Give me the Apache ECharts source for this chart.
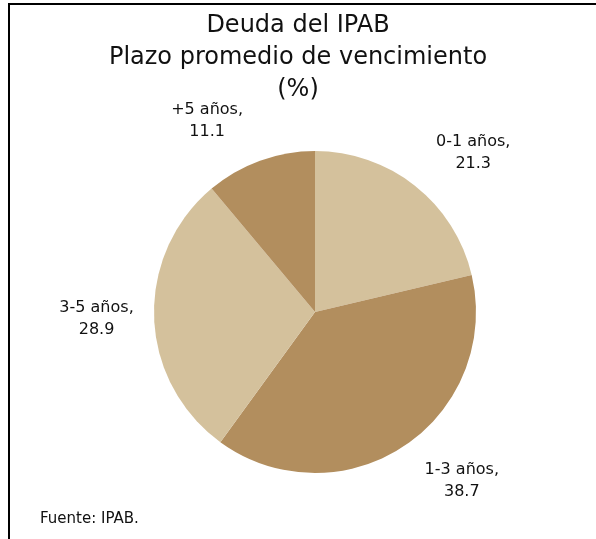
<!DOCTYPE html>
<html>
<head>
<meta charset="utf-8">
<script src="https://cdn.jsdelivr.net/npm/echarts@6/dist/echarts.min.js"></script>
<style>
html, body { margin: 0; padding: 0; background: #fff; }
#main { width: 596px; height: 539px; }
</style>
</head>
<body>
<div id="main"></div>
<script>
// datos
var categorias = ['0-1 años', '1-3 años', '3-5 años', '+5 años'];
var valores = [21.3, 38.7, 28.9, 11.1];
var colores = ['#d4c19c', '#b28e5e', '#d4c19c', '#b28e5e'];

var cx = 315, cy = 312, radio = 161;
var total = valores.reduce(function (a, b) { return a + b; }, 0);

// angulo medio de cada rebanada (desde arriba, sentido horario)
var angMedio = [];
var acum = 0;
for (var i = 0; i < valores.length; i++) {
    angMedio.push((acum + valores[i] / 2) / total * 2 * Math.PI);
    acum += valores[i];
}

var dom = document.getElementById('main');
var myChart = echarts.init(dom);
var option = {
    animation: false,
    title: {
        text: 'Deuda del IPAB\nPlazo promedio de vencimiento\n(%)',
        left: 'center',
        top: 5,
        textStyle: {
            fontFamily: 'DejaVu Sans',
            fontSize: 24,
            fontWeight: 'normal',
            color: '#111',
            lineHeight: 32
        }
    },
    graphic: [
        {
            type: 'polyline',
            shape: { points: [[9, 600], [9, 4], [600, 4]] },
            style: { stroke: '#000', lineWidth: 2, fill: null }
        },
        {
            type: 'text',
            left: 40,
            top: 512,
            style: {
                text: 'Fuente: IPAB.',
                font: '15px "DejaVu Sans"',
                fill: '#111'
            }
        }
    ],
    series: [
        {
            type: 'pie',
            center: [cx, cy],
            radius: [0, radio],
            startAngle: 90,
            clockwise: true,
            silent: true,
            itemStyle: { borderWidth: 0 },
            label: {
                show: true,
                position: 'outside',
                formatter: '{b},\n{c}',
                fontFamily: 'DejaVu Sans',
                fontSize: 16,
                lineHeight: 22,
                color: '#111',
                align: 'center'
            },
            labelLine: { show: false },
            labelLayout: function (params) {
                var a = angMedio[params.dataIndex];
                var r = radio + 20;
                var w = params.labelRect.width, h = params.labelRect.height;
                var s = Math.sin(a), c = Math.cos(a);
                return {
                    x: cx + r * s + (s >= 0 ? 1 : -1) * w / 2 * (1 + Math.abs(c) * 0.3),
                    y: cy - r * c - c * h / 2,
                    align: 'center',
                    verticalAlign: 'middle'
                };
            },
            data: categorias.map(function (n, i) {
                return { name: n, value: valores[i], itemStyle: { color: colores[i] } };
            })
        }
    ]
};
myChart.setOption(option);
</script>
</body>
</html>
